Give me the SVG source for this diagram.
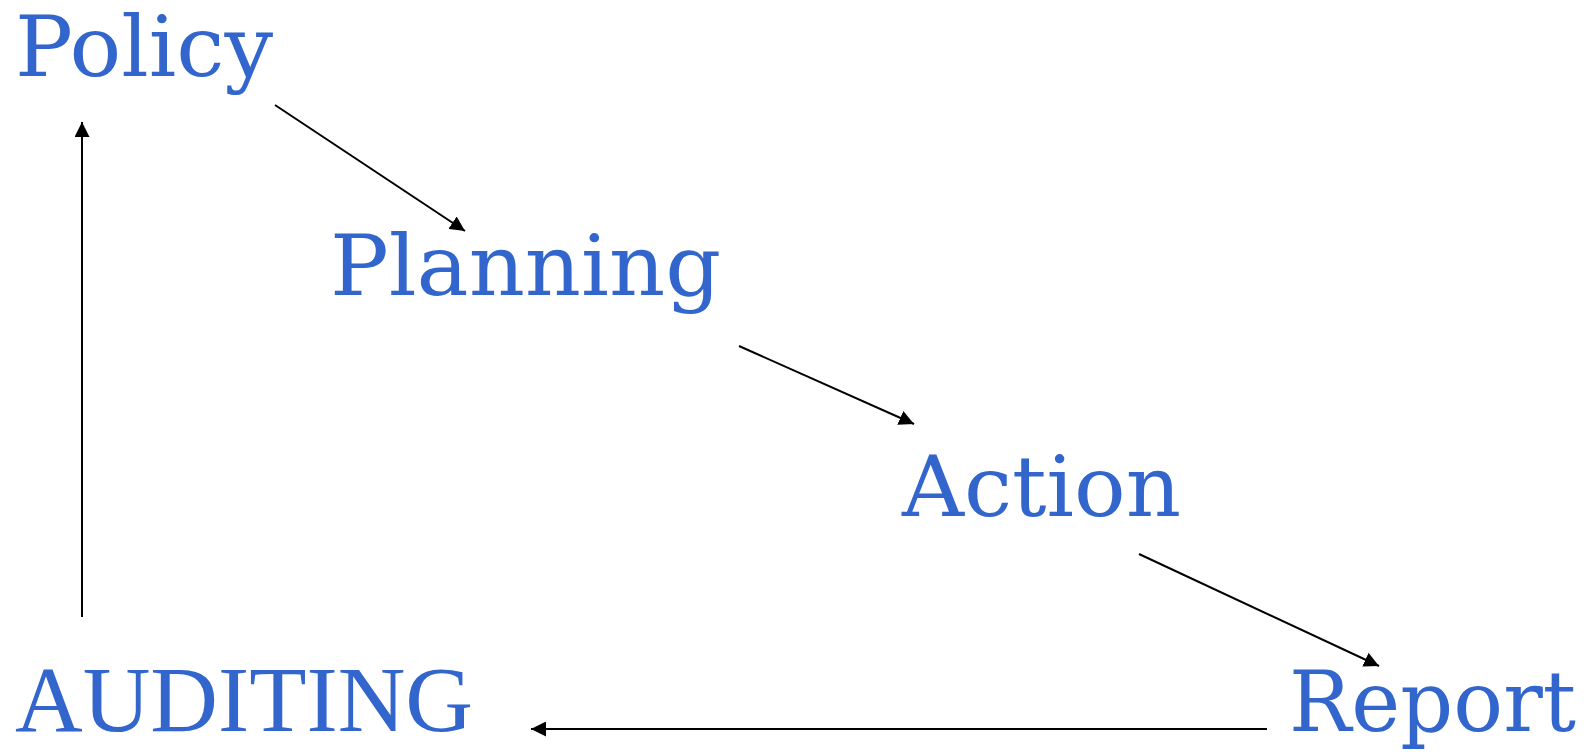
<svg xmlns="http://www.w3.org/2000/svg" width="1592" height="752" viewBox="0 0 1592 752">
<style>
.lbl{fill:#3366cc;font-family:"DejaVu Serif",serif;font-size:84px}
.cap{fill:#3366cc;font-family:"Liberation Serif",serif;font-size:94px}
.edge{stroke:#000;stroke-width:2;fill:none;marker-end:url(#ah)}
</style>
<defs>
<marker id="ah" markerUnits="userSpaceOnUse" markerWidth="16" markerHeight="15" refX="15" refY="7.5" orient="auto">
<path d="M0,0 L15,7.5 L0,15 Z" fill="#000"/>
</marker>
</defs>
<rect width="1592" height="752" fill="#fff"/>
<g id="connectors">
<line class="edge" x1="275" y1="105" x2="465" y2="231"/>
<line class="edge" x1="739" y1="346" x2="914" y2="424"/>
<line class="edge" x1="1139" y1="554" x2="1379" y2="666"/>
<line class="edge" x1="1267" y1="729" x2="531" y2="729"/>
<line class="edge" x1="82" y1="617" x2="82" y2="122"/>
</g>
<g id="policy"><text class="lbl" x="15" y="76" textLength="258" lengthAdjust="spacingAndGlyphs">Policy</text></g>
<g id="planning"><text class="lbl" x="330" y="295" textLength="391" lengthAdjust="spacingAndGlyphs">Planning</text></g>
<g id="action"><text class="lbl" x="902" y="516" textLength="279" lengthAdjust="spacingAndGlyphs">Action</text></g>
<g id="report"><text class="lbl" x="1289" y="731" textLength="287" lengthAdjust="spacingAndGlyphs">Report</text></g>
<g id="auditing"><text class="cap" x="15" y="731" textLength="458" lengthAdjust="spacingAndGlyphs">AUDITING</text></g>
</svg>
